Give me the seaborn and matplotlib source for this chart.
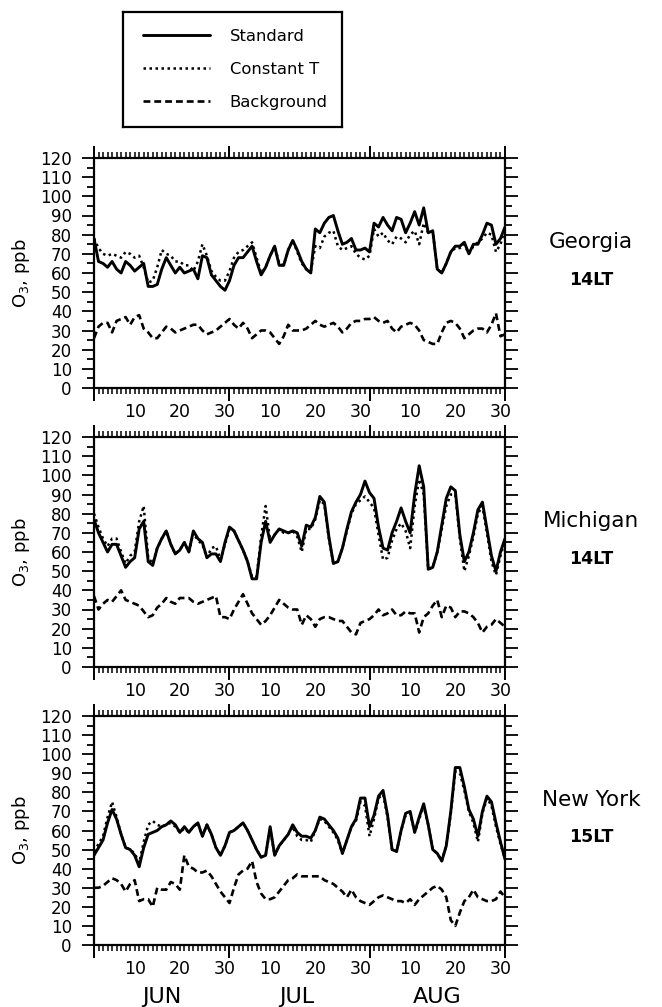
"""
Surface ozone at three rural sites, June-August: standard run vs. constant
temperature run vs. background ozone.  Three stacked panels + a boxed legend.
"""

import matplotlib

matplotlib.use("Agg")

import matplotlib.pyplot as plt
import matplotlib.transforms as mtransforms
from matplotlib.ticker import FixedLocator, FuncFormatter, MultipleLocator
import seaborn as sns

# ---------------------------------------------------------------------------
# Data (day 1 = June 1, day 92 = August 31), ozone in ppb
# ---------------------------------------------------------------------------

days = list(range(1, 93))

label_days = [10, 20, 30, 40, 50, 60, 71, 81, 91]
label_text = ["10", "20", "30", "10", "20", "30", "10", "20", "30"]
month_days = [16, 46, 77]
month_names = ["JUN", "JUL", "AUG"]
month_edges = [1, 31, 62, 92]

series_names = ["Standard", "Constant T", "Background"]

georgia_standard = [
    78, 66, 65, 63, 66, 62, 60, 66, 64, 61, 63, 65, 53, 53, 54, 62, 68, 64, 60, 63,
    60, 61, 62, 57, 69, 68, 59, 56, 53, 51, 56, 64, 68, 68, 71, 74, 66, 59, 63, 69,
    74, 64, 64, 72, 77, 72, 66, 62, 60, 83, 81, 86, 89, 90, 82, 75, 76, 78, 72, 72,
    73, 71, 86, 84, 89, 85, 82, 89, 88, 81, 86, 92, 85, 94, 81, 82, 62, 60, 65, 71,
    74, 74, 76, 70, 75, 75, 80, 86, 85, 75, 78, 84,
]
georgia_constant = [
    78, 73, 70, 69, 70, 69, 68, 71, 70, 68, 69, 63, 55, 56, 63, 72, 70, 69, 66, 66,
    64, 64, 61, 66, 75, 69, 61, 58, 56, 56, 61, 68, 71, 72, 74, 76, 68, 60, 63, 69,
    74, 65, 64, 72, 77, 71, 65, 62, 61, 74, 73, 79, 81, 82, 74, 72, 73, 74, 70, 68,
    67, 69, 83, 79, 81, 77, 75, 79, 78, 76, 80, 82, 75, 86, 81, 82, 62, 60, 65, 71,
    73, 73, 75, 70, 74, 76, 78, 81, 80, 71, 75, 83,
]
georgia_background = [
    26, 32, 34, 34, 29, 35, 36, 37, 33, 37, 38, 31, 29, 26, 26, 29, 32, 31, 29, 30,
    31, 32, 33, 33, 30, 28, 29, 30, 32, 34, 36, 33, 31, 34, 31, 26, 28, 30, 30, 29,
    26, 23, 27, 33, 30, 30, 30, 31, 33, 35, 33, 32, 33, 34, 32, 29, 31, 34, 35, 35,
    36, 36, 37, 35, 34, 35, 31, 29, 32, 33, 34, 33, 30, 25, 24, 23, 23, 29, 34, 35,
    34, 31, 26, 28, 30, 31, 31, 29, 33, 39, 27, 28,
]

michigan_standard = [
    77, 70, 65, 60, 64, 64, 58, 52, 55, 57, 72, 76, 55, 53, 62, 67, 71, 64, 59, 61,
    65, 60, 71, 67, 65, 57, 59, 59, 55, 65, 73, 71, 66, 61, 55, 46, 46, 65, 76, 65,
    69, 72, 71, 70, 71, 70, 63, 74, 73, 78, 89, 86, 68, 54, 55, 62, 72, 81, 86, 90,
    97, 91, 88, 73, 62, 61, 70, 76, 83, 76, 70, 90, 105, 94, 51, 52, 60, 74, 88, 94,
    92, 69, 55, 60, 70, 82, 86, 72, 58, 50, 60, 67,
]
michigan_constant = [
    80, 73, 67, 63, 67, 67, 60, 54, 58, 60, 76, 84, 57, 54, 62, 67, 71, 64, 59, 61,
    65, 60, 70, 66, 64, 57, 62, 63, 56, 64, 72, 71, 66, 61, 55, 47, 47, 68, 84, 66,
    69, 72, 70, 70, 71, 68, 60, 72, 72, 77, 87, 85, 67, 54, 55, 62, 71, 80, 85, 87,
    89, 86, 83, 69, 56, 57, 66, 72, 75, 71, 62, 84, 98, 90, 51, 52, 60, 72, 84, 90,
    90, 67, 50, 58, 68, 80, 84, 70, 55, 48, 58, 66,
]
michigan_background = [
    37, 30, 33, 35, 34, 37, 40, 35, 34, 33, 32, 29, 26, 27, 31, 33, 36, 34, 33, 36,
    36, 36, 34, 33, 34, 35, 36, 37, 26, 26, 25, 30, 34, 38, 33, 28, 25, 22, 24, 27,
    31, 35, 33, 31, 30, 30, 22, 27, 25, 21, 25, 26, 26, 25, 24, 24, 21, 18, 17, 23,
    24, 25, 27, 30, 27, 28, 30, 27, 27, 29, 28, 28, 18, 26, 28, 32, 35, 26, 32, 31,
    26, 29, 29, 28, 26, 23, 18, 21, 22, 25, 23, 21,
]

newyork_standard = [
    47, 51, 55, 64, 71, 66, 58, 51, 50, 47, 41, 51, 58, 59, 60, 62, 63, 65, 63, 59,
    62, 59, 62, 64, 57, 63, 58, 51, 47, 52, 59, 60, 62, 64, 60, 55, 50, 46, 47, 62,
    47, 52, 55, 58, 63, 59, 57, 57, 56, 60, 67, 66, 63, 60, 56, 48, 55, 62, 66, 77,
    77, 62, 68, 78, 81, 68, 50, 49, 60, 69, 70, 59, 67, 74, 63, 50, 48, 44, 52, 70,
    93, 93, 83, 71, 66, 57, 70, 78, 75, 64, 54, 45,
]
newyork_constant = [
    49, 53, 57, 67, 75, 67, 58, 51, 50, 48, 43, 54, 63, 65, 63, 62, 63, 64, 62, 59,
    61, 59, 62, 64, 57, 63, 58, 51, 47, 52, 59, 60, 62, 64, 60, 55, 50, 46, 47, 61,
    47, 52, 55, 58, 62, 57, 55, 55, 54, 60, 66, 65, 62, 59, 55, 48, 55, 62, 65, 75,
    73, 57, 66, 77, 79, 67, 50, 49, 60, 68, 69, 59, 66, 73, 63, 50, 48, 44, 52, 69,
    91, 90, 81, 70, 64, 54, 69, 77, 73, 62, 53, 45,
]
newyork_background = [
    30, 30, 31, 33, 35, 34, 32, 28, 32, 34, 23, 24, 24, 20, 30, 29, 29, 33, 32, 29,
    47, 41, 40, 38, 38, 39, 36, 32, 28, 25, 22, 30, 37, 39, 40, 44, 33, 27, 24, 24,
    25, 28, 31, 34, 35, 37, 36, 36, 36, 36, 36, 34, 33, 32, 30, 28, 25, 29, 25, 23,
    22, 21, 23, 25, 26, 25, 24, 23, 23, 22, 24, 21, 24, 26, 28, 30, 31, 29, 25, 13,
    10, 17, 23, 25, 29, 25, 24, 23, 23, 24, 28, 25,
]

sites = ["Georgia", "Michigan", "New York"]
local_times = ["14LT", "14LT", "15LT"]

# ---------------------------------------------------------------------------
# Figure
# ---------------------------------------------------------------------------

sns.set_theme(
    style="ticks",
    rc={
        "axes.edgecolor": "black",
        "axes.linewidth": 1.6,
        "xtick.color": "black",
        "ytick.color": "black",
        "text.color": "black",
        "axes.labelcolor": "black",
    },
)
plt.rcParams["font.family"] = ["DejaVu Sans"]

W, H = 662, 1007
fig = plt.figure(figsize=(W / 100, H / 100), dpi=100)


def _rect(left, top, right, bottom):
    """Pixel box (top-left origin) -> figure fraction rect."""
    return [left / W, 1 - bottom / H, (right - left) / W, (bottom - top) / H]


panel_boxes = [(94, 158, 505, 388), (94, 437, 505, 667), (94, 716, 505, 945)]
panel_data = [
    (georgia_standard, georgia_constant, georgia_background),
    (michigan_standard, michigan_constant, michigan_background),
    (newyork_standard, newyork_constant, newyork_background),
]
styles = [
    dict(linestyle="-", lw=2.1),
    dict(linestyle=(0, (1, 1.4)), lw=1.8),
    dict(linestyle=(0, (2.6, 1.5)), lw=1.9),
]

day_labels = dict(zip(label_days, label_text))
axes = []
for i, (box, data) in enumerate(zip(panel_boxes, panel_data)):
    ax = fig.add_axes(_rect(*box))
    for values, name, st in zip(data, series_names, styles):
        sns.lineplot(x=days, y=values, ax=ax, color="black", label=name,
                     legend=False, **st)

    ax.set_xlim(1, 92)
    ax.set_ylim(0, 120)

    # y axis: labels every 10, minor every 5, ticks on both sides
    ax.yaxis.set_major_locator(MultipleLocator(10))
    ax.yaxis.set_minor_locator(MultipleLocator(5))
    ax.tick_params(axis="y", which="both", direction="out", left=True, right=True,
                   labelsize=12, width=1.3, pad=7)
    ax.tick_params(axis="y", which="major", length=9)
    ax.tick_params(axis="y", which="minor", length=5)

    # x axis: daily minor ticks (some labelled), month edges as major ticks
    ax.xaxis.set_major_locator(FixedLocator(month_edges))
    ax.xaxis.set_minor_locator(FixedLocator(days))
    ax.xaxis.set_major_formatter(FuncFormatter(lambda v, p: ""))
    ax.xaxis.set_minor_formatter(
        FuncFormatter(lambda v, p: day_labels.get(int(round(v)), ""))
    )
    ax.tick_params(axis="x", which="both", direction="out", top=True, bottom=True,
                   width=1.1)
    ax.tick_params(axis="x", which="major", length=9, width=1.4)
    ax.tick_params(axis="x", which="minor", length=4, labelsize=12.5, pad=7)

    ax.set_xlabel("")
    ax.set_ylabel("O$_3$, ppb", fontsize=13, labelpad=6)

    ax.text(1.21, 0.635, sites[i], transform=ax.transAxes, fontsize=15.5,
            ha="center", va="center")
    ax.text(1.21, 0.47, local_times[i], transform=ax.transAxes, fontsize=12.5,
            fontweight="bold", ha="center", va="center")
    axes.append(ax)

# month names under the bottom panel
trans = mtransforms.blended_transform_factory(axes[-1].transData,
                                              axes[-1].transAxes)
for d, m in zip(month_days, month_names):
    axes[-1].text(d, -0.225, m, transform=trans, fontsize=16,
                  ha="center", va="center")

# boxed legend above the panels
ax_leg = fig.add_axes(_rect(123, 12, 342, 127))
ax_leg.set_xticks([])
ax_leg.set_yticks([])
for sp in ax_leg.spines.values():
    sp.set_linewidth(1.6)
handles, labels = axes[0].get_legend_handles_labels()
ax_leg.legend(handles, labels, loc="center left", bbox_to_anchor=(0.06, 0.5),
              frameon=False, handlelength=4.1, handletextpad=1.2,
              labelspacing=1.1, fontsize=11.8, borderaxespad=0)

fig.savefig("out.png", dpi=100)
plt.close(fig)
